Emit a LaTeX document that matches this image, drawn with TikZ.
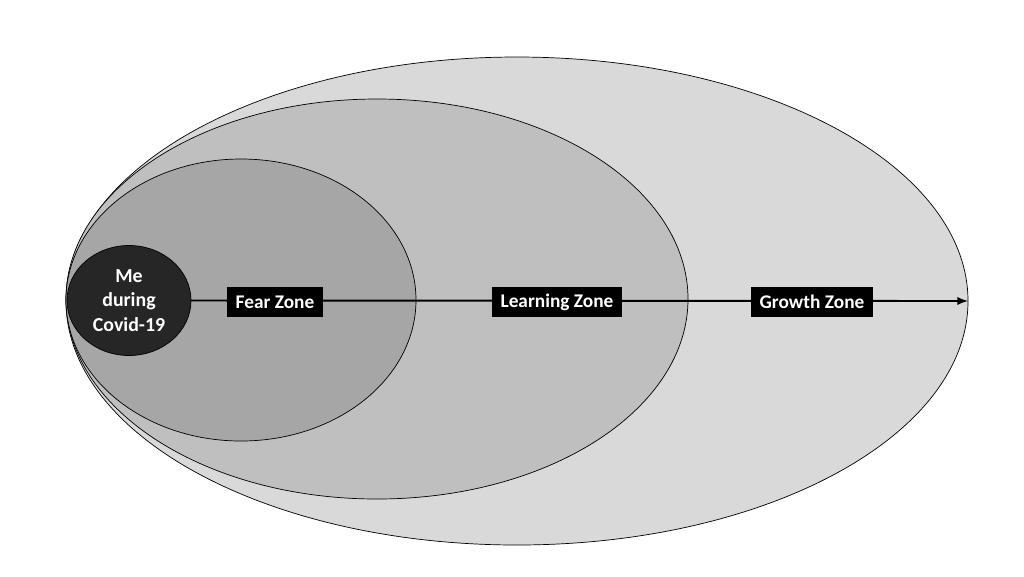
\documentclass[tikz,border=0pt]{standalone}
\usepackage{fontspec}
\setmainfont{Carlito}
\usetikzlibrary{shapes.geometric,arrows}
\definecolor{growthgray}{HTML}{D9D9D9}
\definecolor{learninggray}{HTML}{BFBFBF}
\definecolor{feargray}{HTML}{A6A6A6}
\definecolor{megray}{HTML}{262626}
\begin{document}
\begin{tikzpicture}
[x=0.02cm,y=-0.02cm,
  zonedecorate/.style={shape=ellipse,draw,inner sep=0pt,outer sep=0pt},%
  labeldecorate/.style={fill=black,text=white,font=\fontsize{11}{13}\selectfont\bfseries,
    inner xsep=0.17cm,inner ysep=0pt,minimum height=0.6cm},%
  arrowdecorate/.style={->,>=latex,line width=1.1pt}]
\useasboundingbox (0,0) rectangle (1024,576);
%% zones, outer first
\foreach \zonename/\x/\y/\w/\h/\shade in {growth/517/301/902/488/growthgray,
  learning/377/299/622/400/learninggray, fear/241/300/350/282/feargray} {
  \node (\zonename) at (\x,\y) [zonedecorate,fill=\shade,
    minimum width=\w*0.02cm,minimum height=\h*0.02cm] {};
}
\node (me) at (129,300.5) [zonedecorate,fill=megray,text=white,
  minimum width=124*0.02cm,minimum height=110*0.02cm,align=center,
  font=\fontsize{11.3}{13.8}\selectfont\bfseries] {Me\\during\\Covid-19};
%% axis
\draw[arrowdecorate] (me.east) -- (growth.east);
%% labels
\foreach \labelname/\x/\text in {fearlabel/275/Fear Zone,
  learninglabel/557/Learning Zone, growthlabel/812/Growth Zone} {
  \node (\labelname) at (\x,302) [labeldecorate] {\text};
}
\end{tikzpicture}
\end{document}
